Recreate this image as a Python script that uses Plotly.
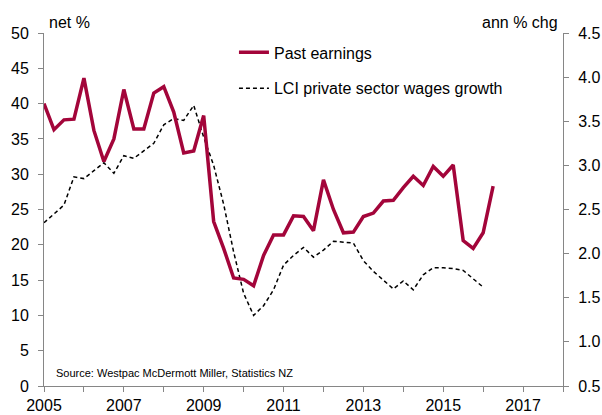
import pandas as pd
import plotly.graph_objects as go

# Quarterly observations
earn_start, wage_start = "2005Q1", "2005Q1"

# Past earnings, net % (left axis)
past_earnings = [
    40.0, 36.3, 37.7, 37.8,
    43.6, 36.2, 31.8, 35.0,
    42.0, 36.4, 36.4, 41.5,
    42.4, 38.8, 33.0, 33.3,
    38.3, 23.3, 19.5, 15.3,
    15.1, 14.2, 18.5, 21.4,
    21.4, 24.1, 24.0, 22.0,
    29.2, 25.0, 21.7, 21.8,
    24.0, 24.5, 26.2, 26.3,
    28.1, 29.7, 28.4, 31.1,
    29.7, 31.3, 20.6, 19.5,
    21.7, 28.3,
]

# LCI private sector wages growth, annual % change (right axis)
lci_wages = [
    2.35, 2.45, 2.55, 2.87,
    2.85, 2.94, 3.03, 2.91,
    3.11, 3.08, 3.17, 3.25,
    3.46, 3.53, 3.51, 3.68,
    3.32, 3.00, 2.56, 2.02,
    1.55, 1.30, 1.41, 1.59,
    1.87, 1.98, 2.07, 1.96,
    2.04, 2.14, 2.13, 2.12,
    1.92, 1.80, 1.70, 1.60,
    1.69, 1.59, 1.76, 1.84,
    1.84, 1.83, 1.81, 1.71,
    1.62,
]

years = list(range(2005, 2019))
year_labels = [str(y) if (y % 2 == 1 and y <= 2017) else "" for y in years]
left_ticks = list(range(0, 51, 5))
right_ticks = [0.5, 1.0, 1.5, 2.0, 2.5, 3.0, 3.5, 4.0, 4.5]


def quarter_positions(start, n):
    periods = pd.period_range(start, periods=n, freq="Q")
    return [p.year + (p.quarter - 1) / 4 for p in periods]


x_earn = quarter_positions(earn_start, len(past_earnings))
x_wage = quarter_positions(wage_start, len(lci_wages))

RED = "#A3053A"
AXIS = "#868686"
FONT = "Liberation Sans, Arial, sans-serif"

fig = go.Figure()

fig.add_trace(go.Scatter(
    x=x_wage, y=lci_wages, mode="lines", yaxis="y",
    name="LCI private sector wages growth",
    line=dict(color="black", width=1.5, dash="4px,3px"),
    legendgroup="b", legendrank=2,
))
fig.add_trace(go.Scatter(
    x=x_earn, y=past_earnings, mode="lines", yaxis="y2",
    name="Past earnings",
    line=dict(color=RED, width=3.5),
    legendgroup="a", legendrank=1,
))

axis_common = dict(
    showgrid=False, zeroline=False, showline=True, automargin=False,
    linecolor=AXIS, linewidth=1, ticks="outside",
    ticklen=5, tickcolor=AXIS, tickwidth=1,
    tickfont=dict(size=16, color="black", family=FONT),
)

fig.update_layout(
    width=602, height=415,
    margin=dict(l=44, r=39, t=33, b=29),
    paper_bgcolor="white", plot_bgcolor="white",
    font=dict(family=FONT, size=16, color="black"),
    xaxis=dict(
        range=[2005, 2018], tickmode="array",
        tickvals=years, ticktext=year_labels,
        **axis_common,
    ),
    yaxis=dict(
        side="right", range=[0.5, 4.5], tickmode="array",
        tickvals=right_ticks, ticktext=[f"{v:.1f}" for v in right_ticks],
        ticklabelstandoff=6,
        **axis_common,
    ),
    yaxis2=dict(
        side="left", overlaying="y", range=[0, 50], tickmode="array",
        tickvals=left_ticks, ticktext=[str(v) for v in left_ticks],
        ticklabelstandoff=6,
        **axis_common,
    ),
    showlegend=True,
    legend=dict(
        x=0.366, y=0.993, xanchor="left", yanchor="top",
        bgcolor="rgba(0,0,0,0)", borderwidth=0,
        font=dict(size=16, color="black", family=FONT),
        tracegroupgap=12, itemwidth=30,
    ),
    annotations=[
        dict(text="net %", xref="paper", yref="paper", x=0.005, y=1.0,
             xanchor="left", yanchor="bottom", showarrow=False,
             font=dict(size=16, color="black", family=FONT)),
        dict(text="ann % chg", xref="paper", yref="paper", x=0.995, y=1.0,
             xanchor="right", yanchor="bottom", showarrow=False,
             font=dict(size=16, color="black", family=FONT)),
        dict(text="Source: Westpac McDermott Miller, Statistics NZ",
             xref="paper", yref="paper", x=0.02, y=0.037,
             xanchor="left", yanchor="middle", showarrow=False,
             font=dict(size=11, color="black", family=FONT)),
    ],
)

fig.write_html("out.html")
